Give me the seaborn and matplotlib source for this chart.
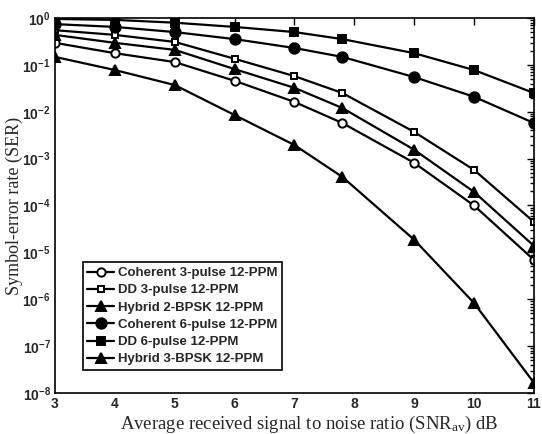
import numpy as np
import pandas as pd
import matplotlib
matplotlib.use('Agg')
import matplotlib.pyplot as plt
import seaborn as sns
from matplotlib.ticker import LogLocator, NullFormatter, FixedLocator

sns.set_style("white")
plt.rcParams['font.family'] = ['Liberation Sans', 'DejaVu Sans']
plt.rcParams['mathtext.fontset'] = 'custom'
plt.rcParams['mathtext.rm'] = 'Liberation Serif'
plt.rcParams['mathtext.it'] = 'Liberation Serif'
plt.rcParams['mathtext.bf'] = 'Liberation Sans:bold'

# SNR points (dB)
snr = [3, 4, 5, 6, 7, 7.8, 9, 10, 11]

# log10(SER)
coh3 = [-0.53, -0.75, -0.94, -1.34, -1.79, -2.24, -3.09, -4.00, -5.16]
dd3 = [-0.26, -0.36, -0.51, -0.87, -1.24, -1.60, -2.43, -3.24, -4.35]
hyb2 = [-0.36, -0.53, -0.68, -1.09, -1.49, -1.92, -2.81, -3.71, -4.86]
coh6 = [-0.13, -0.19, -0.30, -0.45, -0.64, -0.83, -1.26, -1.68, -2.24]
dd6 = [-0.02, -0.04, -0.10, -0.19, -0.30, -0.45, -0.75, -1.11, -1.60]
hyb3 = [-0.83, -1.11, -1.43, -2.07, -2.71, -3.39, -4.73, -6.08, -7.78]

labels = ['Coherent 3-pulse 12-PPM', 'DD 3-pulse 12-PPM', 'Hybrid 2-BPSK 12-PPM',
          'Coherent 6-pulse 12-PPM', 'DD 6-pulse 12-PPM', 'Hybrid 3-BPSK 12-PPM']
series = [coh3, dd3, hyb2, coh6, dd6, hyb3]
markers = ['o', 's', '^', 'o', 's', '^']
filled = [False, False, True, True, True, True]
sizes = [6, 5, 7, 7.5, 6, 7]

fig = plt.figure(figsize=(5.42, 4.34), dpi=100)
ax = fig.add_axes([0.1015, 0.0945, 0.8835, 0.864])

for lab, vals, mk, fl, ms in zip(labels, series, markers, filled, sizes):
    df = pd.DataFrame({'snr': snr, 'ser': 10 ** np.array(vals)})
    sns.lineplot(data=df, x='snr', y='ser', ax=ax, color='k', linewidth=1.6,
                 marker=mk, markersize=ms,
                 markerfacecolor='k' if fl else 'white',
                 markeredgecolor='k', markeredgewidth=1.4, label=lab)

ax.set_yscale('log')
ax.set_xlim(3, 11)
ax.set_ylim(1e-8, 1)
ax.xaxis.set_major_locator(FixedLocator(range(3, 12)))
ax.set_xticklabels([str(v) for v in range(3, 12)], fontweight='bold', fontsize=10)
ax.yaxis.set_major_locator(FixedLocator([10.0 ** -k for k in range(0, 9)]))
ax.set_yticklabels([r'$\mathbf{10^{%d}}$' % (-k) for k in range(0, 9)], fontsize=10)
ax.yaxis.set_minor_locator(LogLocator(base=10, subs=np.arange(2, 10), numticks=20))
ax.yaxis.set_minor_formatter(NullFormatter())
ax.tick_params(which='both', direction='in', top=True, right=True, width=1, color='k')
ax.tick_params(which='major', length=5, pad=3)
ax.tick_params(which='minor', length=3)
for sp in ax.spines.values():
    sp.set_color('k')
    sp.set_linewidth(1.2)

ax.set_xlabel(r'Average received signal to noise ratio (SNR$_{\mathrm{av}}$) dB',
              family='Liberation Serif', fontsize=13.5)
ax.xaxis.set_label_coords(0.53, -0.055)
ax.set_ylabel('Symbol-error rate (SER)', family='Liberation Serif', fontsize=13)
ax.yaxis.set_label_coords(-0.066, 0.5)

leg = ax.legend(loc='lower left', bbox_to_anchor=(0.058, 0.061), frameon=True, fancybox=False,
                edgecolor='k', framealpha=1, prop={'weight': 'bold', 'size': 9.5},
                handlelength=2.0, handletextpad=0.3, labelspacing=0.38, borderpad=0.35,
                borderaxespad=0)
leg.get_frame().set_linewidth(1.2)

fig.savefig('out.png', dpi=100)
